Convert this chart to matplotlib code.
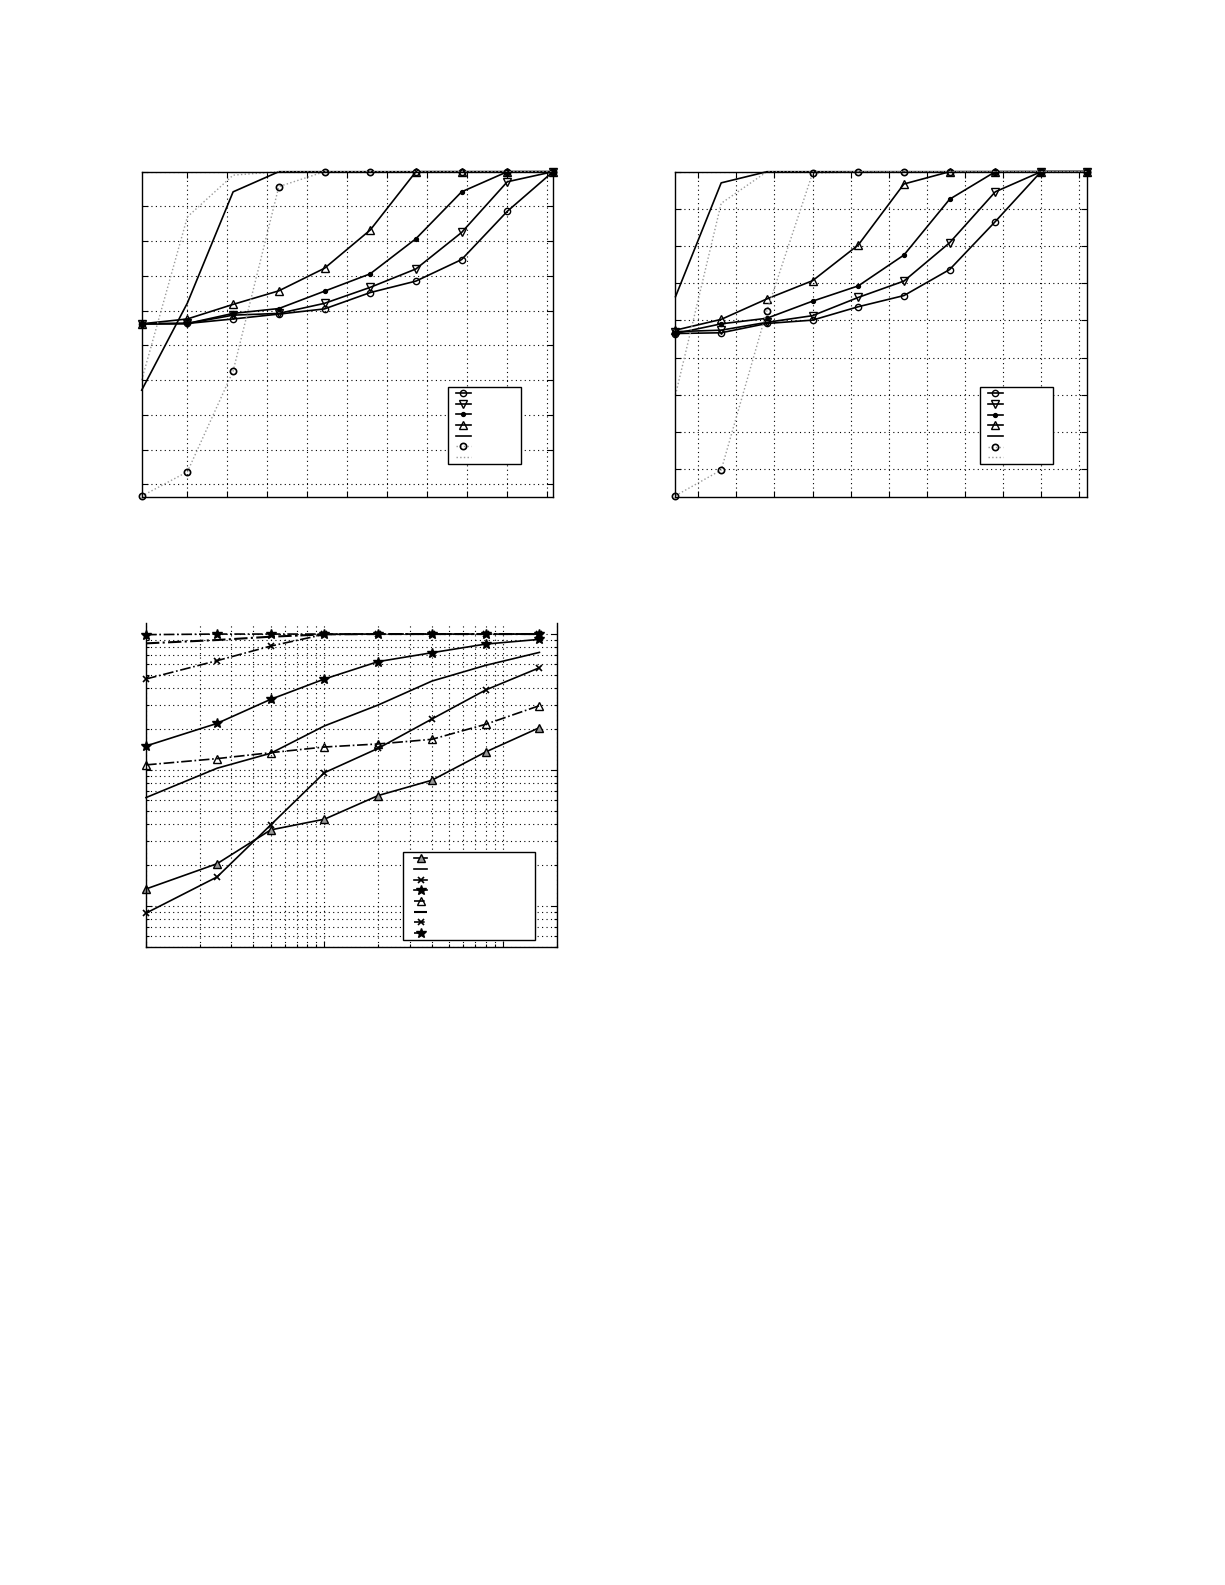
import numpy as np
import matplotlib
matplotlib.use('Agg')
import matplotlib.pyplot as plt

plt.rcParams['font.family'] = ['DejaVu Sans']

# ---- data: panel 1 (top left) ----
x_top = np.arange(10)
p1_circ = [0.562, 0.563, 0.576, 0.590, 0.605, 0.652, 0.685, 0.747, 0.886, 1.0]
p1_vtri = [0.562, 0.563, 0.587, 0.592, 0.621, 0.667, 0.720, 0.825, 0.971, 1.0]
p1_dot = [0.562, 0.563, 0.592, 0.606, 0.656, 0.706, 0.807, 0.942, 1.0, 1.0]
p1_tri = [0.562, 0.576, 0.618, 0.657, 0.722, 0.832, 1.0, 1.0, 1.0, 1.0]
p1_solid = [0.371, 0.622, 0.942, 1.0, 1.0, 1.0, 1.0, 1.0, 1.0, 1.0]
p1_dcirc = [0.066, 0.136, 0.426, 0.957, 1.0, 1.0, 1.0, 1.0, 1.0, 1.0]
p1_dotted = [0.400, 0.870, 0.990, 1.0, 1.0, 1.0, 1.0, 1.0, 1.0, 1.0]

# ---- data: panel 2 (top right) ----
p2_circ = [0.565, 0.567, 0.592, 0.601, 0.637, 0.667, 0.737, 0.866, 1.0, 1.0]
p2_vtri = [0.570, 0.574, 0.595, 0.613, 0.662, 0.706, 0.809, 0.946, 1.0, 1.0]
p2_dot = [0.565, 0.591, 0.606, 0.652, 0.693, 0.776, 0.926, 1.0, 1.0, 1.0]
p2_tri = [0.574, 0.603, 0.658, 0.707, 0.803, 0.967, 1.0, 1.0, 1.0, 1.0]
p2_solid = [0.664, 0.970, 1.0, 1.0, 1.0, 1.0, 1.0, 1.0, 1.0, 1.0]
p2_dcirc = [0.129, 0.198, 0.626, 0.996, 1.0, 1.0, 1.0, 1.0, 1.0, 1.0]
p2_dotted = [0.400, 0.915, 1.0, 1.0, 1.0, 1.0, 1.0, 1.0, 1.0, 1.0]

# ---- data: panel 3 (bottom, log-log) ----
x_log = [1, 2.5, 5, 10, 20, 40, 80, 160]
s_tri = [0.0133, 0.0204, 0.0362, 0.0434, 0.0648, 0.0840, 0.1356, 0.2047]
s_plain = [0.0626, 0.1029, 0.1327, 0.2109, 0.3006, 0.4508, 0.5885, 0.733]
s_x = [0.00883, 0.0163, 0.0394, 0.0955, 0.1443, 0.2371, 0.3876, 0.565]
s_star = [0.150, 0.220, 0.331, 0.467, 0.627, 0.729, 0.844, 0.914]
d_tri = [0.1089, 0.1211, 0.1340, 0.1475, 0.1553, 0.1680, 0.2167, 0.2972]
d_plain = [0.854, 0.904, 0.956, 0.995, 1.0, 1.0, 1.0, 1.0]
d_x = [0.467, 0.637, 0.816, 0.995, 1.0, 1.0, 1.0, 1.0]
d_star = [0.99, 1.0, 1.0, 1.0, 1.0, 1.0, 1.0, 1.0]

W, H = 1225, 1585
fig = plt.figure(figsize=(W / 100, H / 100), dpi=100)
fig.patch.set_facecolor('white')

grid_kw = dict(color='black', linestyle=(0, (1, 3)), linewidth=0.8)
lw = 1.2


def style_axes(ax):
    ax.tick_params(which='both', direction='in', top=True, right=True,
                   labelbottom=False, labelleft=False, length=4, width=0.8)
    ax.tick_params(which='minor', length=2)
    for s in ax.spines.values():
        s.set_linewidth(1.0)


def legend_box(ax, handles, box, lead=0.62, hlen=2.1):
    # legend with no label text; frame stretched to the reference box,
    # 'lead' is the gap before the handle (label comes first and is empty)
    x0, y0, x1, y1 = box
    leg = ax.legend(handles, [''] * len(handles), loc='upper left',
                    bbox_to_anchor=(x0, y0, x1 - x0, y1 - y0), mode='expand',
                    borderaxespad=0, fontsize=5, labelspacing=0.67,
                    handlelength=hlen, handletextpad=lead, borderpad=0.52,
                    markerfirst=False, fancybox=False, framealpha=1,
                    edgecolor='black')
    leg.get_frame().set_linewidth(1.0)


def top_panel(ax, series, xticks, yticks, ylim, box, lead, hlen):
    circ, vtri, dot, tri, solid, dcirc, dotted = series
    hs = []
    hs += ax.plot(x_top, circ, '-o', color='k', lw=lw, ms=4.5, mfc='none', clip_on=False)
    hs += ax.plot(x_top, vtri, '-v', color='k', lw=lw, ms=5.5, mfc='none', clip_on=False)
    hs += ax.plot(x_top, dot, '-o', color='k', lw=lw, ms=2.8, mfc='k', clip_on=False)
    hs += ax.plot(x_top, tri, '-^', color='k', lw=lw, ms=5.5, mfc='none', clip_on=False)
    hs += ax.plot(x_top, solid, '-', color='k', lw=lw, clip_on=False)
    hs += ax.plot(x_top, dcirc, ':o', color='0.6', lw=1.0, ms=4.5, mfc='none', mec='k',
                  mew=1.2, clip_on=False)
    hs += ax.plot(x_top, dotted, ':', color='0.6', lw=1.0, clip_on=False)
    ax.set_xlim(0, 9)
    ax.set_ylim(*ylim)
    ax.set_xticks(xticks)
    ax.set_yticks(yticks)
    ax.grid(True, **grid_kw)
    style_axes(ax)
    legend_box(ax, hs, box, lead, hlen)


# panel 1
ax1 = fig.add_axes([141.7 / W, 1 - 496.7 / H, 411.3 / W, 325 / H])
top_panel(ax1, [p1_circ, p1_vtri, p1_dot, p1_tri, p1_solid, p1_dcirc, p1_dotted],
          1 + 0.875 * np.arange(10), np.arange(0.1, 1.01, 0.1), (0.0643, 1.0),
          (0.745, 0.106, 0.922, 0.338), 0.62, 2.1)

# panel 2
ax2 = fig.add_axes([675.5 / W, 1 - 496.7 / H, 411.2 / W, 325 / H])
top_panel(ax2, [p2_circ, p2_vtri, p2_dot, p2_tri, p2_solid, p2_dcirc, p2_dotted],
          0.5 + (5 / 6) * np.arange(11), np.arange(0.2, 1.01, 0.1), (0.1263, 1.0),
          (0.740, 0.103, 0.919, 0.337), 0.62, 2.15)

# panel 3
ax3 = fig.add_axes([146 / W, 1 - 946.7 / H, 410.7 / W, 323.4 / H])
hs = []
hs += ax3.plot(x_log, s_tri, '-^', color='k', lw=lw, ms=5.5, mfc='0.6', clip_on=False)
hs += ax3.plot(x_log, s_plain, '-', color='k', lw=lw, clip_on=False)
hs += ax3.plot(x_log, s_x, '-x', color='k', lw=lw, ms=4, mew=1.2, clip_on=False)
hs += ax3.plot(x_log, s_star, '-*', color='k', lw=lw, ms=7.5, clip_on=False)
hs += ax3.plot(x_log, d_tri, '-.^', color='k', lw=lw, ms=5.5, mfc='none', clip_on=False)
hs += ax3.plot(x_log, d_plain, '-.', color='k', lw=1.5, clip_on=False)
hs += ax3.plot(x_log, d_x, '-.x', color='k', lw=lw, ms=4, mew=1.2, clip_on=False)
hs += ax3.plot(x_log, d_star, '-.*', color='k', lw=lw, ms=7.5, clip_on=False)
ax3.set_xscale('log')
ax3.set_yscale('log')
ax3.set_xlim(1, 200)
ax3.set_ylim(0.005, 1.2)
ax3.grid(True, which='both', **grid_kw)
style_axes(ax3)
ax3.tick_params(which='both', top=False)
ax3.spines['top'].set_visible(False)
legend_box(ax3, hs, (0.625, 0.028, 0.947, 0.292), 1.15, 1.85)

fig.savefig('out.png', dpi=100, facecolor='white')
